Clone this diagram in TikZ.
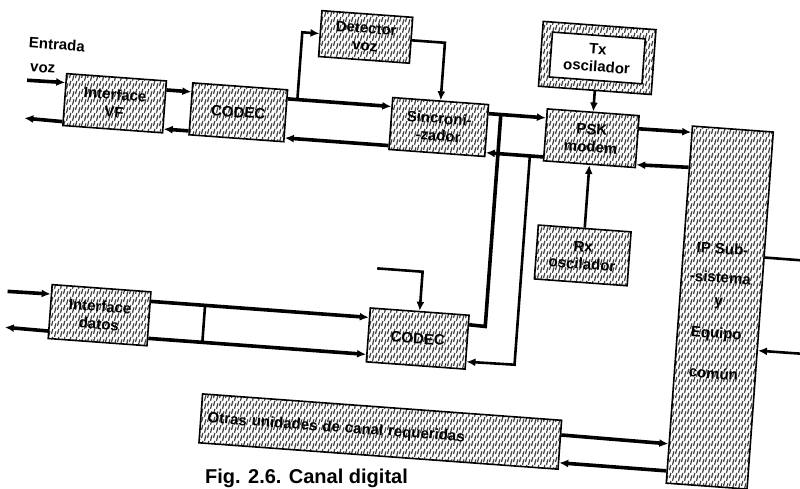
\documentclass[tikz,border=0pt]{standalone}
\usepackage{fontspec}
\setmainfont{Liberation Sans}
\usetikzlibrary{arrows.meta,calc,patterns}
\pgfdeclarepatternformonly{scanhatch}{\pgfqpoint{-1pt}{-1pt}}{\pgfqpoint{7pt}{9pt}}{\pgfqpoint{6pt}{8pt}}{%
  \pgfsetlinewidth{1.2pt}%
  \pgfsetroundcap
  \pgfpathmoveto{\pgfqpoint{0.6pt}{0.5pt}}\pgfpathlineto{\pgfqpoint{1.8pt}{5.3pt}}%
  \pgfpathmoveto{\pgfqpoint{3.6pt}{3.4pt}}\pgfpathlineto{\pgfqpoint{4.8pt}{7.8pt}}%
  \pgfusepath{stroke}}
\tikzset{
  blk/.style={draw=black, line width=1.6pt, pattern=scanhatch, pattern color=black!75,
    inner sep=0pt, align=center, font=\bfseries\fontsize{15}{17.5}\selectfont, transform shape},
  whitebox/.style={draw=black, line width=1.6pt, fill=white,
    inner sep=0pt, align=center, font=\bfseries\fontsize{15}{17.5}\selectfont, transform shape},
  lbl/.style={font=\bfseries\fontsize{15}{17.5}\selectfont, inner sep=0pt, transform shape},
  big/.style={line width=3.6pt},
  mid/.style={line width=2.6pt},
  arr/.style={-{Latex[length=9pt,width=8pt]}},
}
\begin{document}
\begin{tikzpicture}[x=1pt,y=1pt]
\useasboundingbox (0,0) rectangle (800,-489);
\fill[white] (0,0) rectangle (800,-489);
\clip (0,0) rectangle (800,-489);
\begin{scope}[rotate around={-4.2:(400,-245)}]
  % blocks
  \node[blk,minimum width=100pt,minimum height=52pt] (vf) at (105,-124.5) {Interface\\VF};
  \node[blk,minimum width=95pt,minimum height=52pt] (codecA) at (229,-124.5) {CODEC};
  \node[blk,minimum width=91pt,minimum height=46pt] (det) at (350.5,-40) {Detector\\voz};
  \node[blk,minimum width=96pt,minimum height=52pt] (sinc) at (430,-124.5) {Sincroni-\\-zador};
  \node[blk,minimum width=113pt,minimum height=65pt] (tx) at (583,-44) {};
  \node[whitebox,minimum width=93pt,minimum height=45pt] (txin) at (583,-44) {Tx\\oscilador};
  \node[blk,minimum width=92pt,minimum height=52pt] (psk) at (583,-124.5) {PSK\\modem};
  \node[blk,minimum width=81pt,minimum height=358pt] (ip) at (723.5,-284) {};
  \node[lbl] (ipa) at (722,-225) {IP Sub-};
  \node[lbl] (ipb) at (722,-254) {-sistema};
  \node[lbl] (ipc) at (722,-280) {y};
  \node[lbl] (ipd) at (722,-311) {Equipo};
  \node[lbl] (ipe) at (722,-350) {común};
  \node[blk,minimum width=93pt,minimum height=54pt] (rx) at (583,-242) {Rx\\oscilador};
  \node[blk,minimum width=99pt,minimum height=54pt] (dat) at (105.5,-337) {Interface\\datos};
  \node[blk,minimum width=99pt,minimum height=54pt] (codecB) at (424.5,-337) {CODEC};
  \node[blk,minimum height=49pt,text width=346pt,inner xsep=7pt,align=left] (otras) at (394,-432.5) {Otras unidades de canal requeridas};
  % free texts
  \node[lbl,anchor=west] (entr) at (15,-70) {Entrada};
  \node[lbl,anchor=west] (vozl) at (18,-95) {voz};
  % named points
  \coordinate (inA) at (16,-108);
  \coordinate (outA) at (16,-146);
  \coordinate (inB) at (12,-320);
  \coordinate (outB) at (12,-356);
  \coordinate (jd) at (287,-108);
  \coordinate (jd2) at (287,-40);
  \coordinate (dc) at (430,-40);
  \coordinate (ju) at (491,-108);
  \coordinate (cu) at (491,-320);
  \coordinate (jl) at (523,-146);
  \coordinate (cl) at (523,-356);
  \coordinate (ct0) at (379,-270);
  \coordinate (ct1) at (424.5,-270);
  \coordinate (jv1) at (210,-320);
  \coordinate (jv2) at (210,-356);
  \coordinate (ipo) at (830,-231);
  \coordinate (ipi) at (830,-324);
  % voice row
  \draw[big,arr] (inA) -- ($(vf.north west)!0.1827!(vf.south west)$);
  \draw[big,arr] ($(vf.north west)!0.9135!(vf.south west)$) -- (outA);
  \draw[big,arr] ($(vf.north east)!0.1827!(vf.south east)$) -- ($(codecA.north west)!0.1827!(codecA.south west)$);
  \draw[big,arr] ($(codecA.north west)!0.9135!(codecA.south west)$) -- ($(vf.north east)!0.9135!(vf.south east)$);
  \draw[big,arr] ($(codecA.north east)!0.1827!(codecA.south east)$) -- ($(sinc.north west)!0.1827!(sinc.south west)$);
  \draw[big,arr] ($(sinc.north west)!0.9135!(sinc.south west)$) -- ($(codecA.north east)!0.9135!(codecA.south east)$);
  \draw[mid,arr] (jd) -- (jd2) -- (det.west);
  \draw[mid,arr] (det.east) -- (dc) -- (sinc.north);
  \draw[big,arr] ($(sinc.north east)!0.1827!(sinc.south east)$) -- ($(psk.north west)!0.1827!(psk.south west)$);
  \draw[big,arr] ($(psk.north west)!0.9135!(psk.south west)$) -- ($(sinc.north east)!0.9135!(sinc.south east)$);
  \draw[mid,arr] (tx.south) -- (psk.north);
  \draw[mid,arr] (rx.north) -- (psk.south);
  \draw[big,arr] ($(psk.north east)!0.2596!(psk.south east)$) -- ($(ip.north west)!0.01955!(ip.south west)$);
  \draw[big,arr] ($(ip.north west)!0.1173!(ip.south west)$) -- ($(psk.north east)!0.9327!(psk.south east)$);
  % data row
  \draw[big] ($(codecB.north east)!0.1852!(codecB.south east)$) -- (cu) -- (ju);
  \draw[mid,arr] (jl) -- (cl) -- ($(codecB.north east)!0.8519!(codecB.south east)$);
  \draw[mid,arr] (ct0) -- (ct1) -- (codecB.north);
  \draw[big,arr] (inB) -- ($(dat.north west)!0.1852!(dat.south west)$);
  \draw[big,arr] ($(dat.north west)!0.8519!(dat.south west)$) -- (outB);
  \draw[big,arr] ($(dat.north east)!0.1852!(dat.south east)$) -- ($(codecB.north west)!0.1852!(codecB.south west)$);
  \draw[big,arr] ($(dat.north east)!0.8519!(dat.south east)$) -- ($(codecB.north west)!0.8519!(codecB.south west)$);
  \draw[mid] (jv1) -- (jv2);
  % common equipment
  \draw[mid] ($(ip.north east)!0.3520!(ip.south east)$) -- (ipo);
  \draw[mid,arr] (ipi) -- ($(ip.north east)!0.6117!(ip.south east)$);
  \draw[big,arr] ($(otras.north east)!0.3061!(otras.south east)$) -- ($(ip.north west)!0.8883!(ip.south west)$);
  \draw[big,arr] ($(ip.north west)!0.9637!(ip.south west)$) -- ($(otras.north east)!0.8571!(otras.south east)$);
\end{scope}
\node[font=\bfseries\fontsize{20}{22}\selectfont, inner sep=0pt, anchor=base west] (caption) at (205,-483) {Fig. 2.6. Canal digital};
\end{tikzpicture}
\end{document}
